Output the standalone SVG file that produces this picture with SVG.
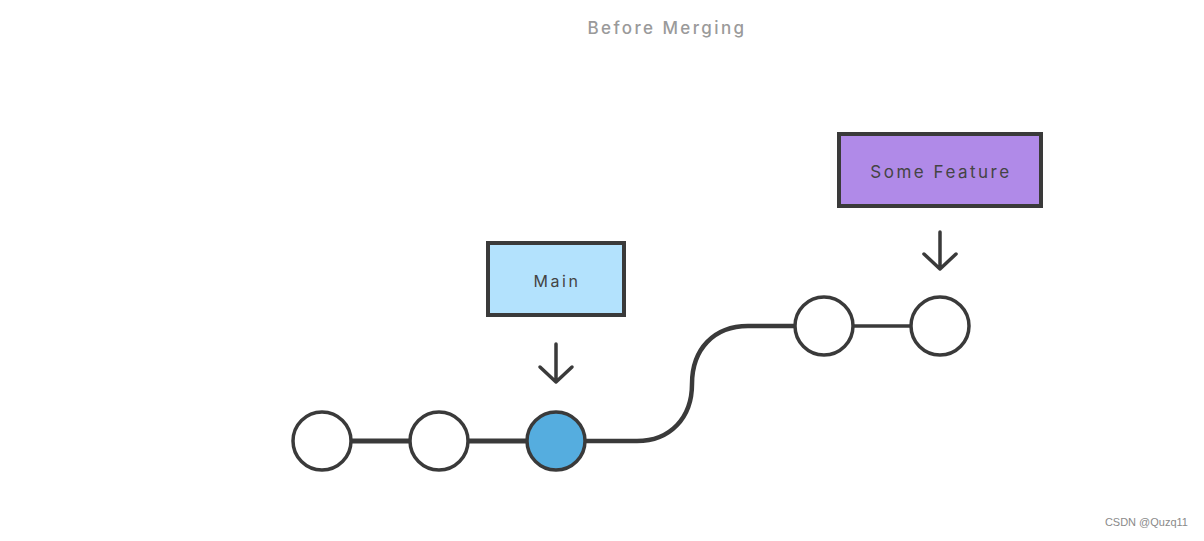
<svg xmlns="http://www.w3.org/2000/svg" width="1204" height="541" viewBox="0 0 1204 541">
<style>
.commit{fill:#ffffff;stroke:#3a3a3a;stroke-width:3.5}
.head{fill:#55addf}
.link{fill:none;stroke:#3a3a3a;stroke-linecap:butt}
.box{stroke:#3a3a3a;stroke-width:4}
.lbl{font-family:"Inter","Liberation Sans",sans-serif;fill:#444;text-anchor:middle;dominant-baseline:central;letter-spacing:2.5px}
.ptr{fill:none;stroke:#3a3a3a;stroke-width:3.5;stroke-linecap:round;stroke-linejoin:round}
</style>
<rect width="1204" height="541" fill="#ffffff"/>
<text x="667" y="28" font-family="Inter,'Liberation Sans',sans-serif" font-size="17" font-weight="500" fill="#9a9a9a" text-anchor="middle" dominant-baseline="central" letter-spacing="2.4">Before Merging</text>
<g id="connectors">
<path class="link" stroke-width="5" d="M350,441 H412"/>
<path class="link" stroke-width="5" d="M467,441 H529"/>
<path class="link" stroke-width="4.5" d="M584,441 H637 C670,441 692,418 692,384 C692,349 714,326 748,326 H797"/>
<path class="link" stroke-width="3.5" d="M852,326 H913"/>
<path class="ptr" d="M556,344 V382 M540,367 L556,382 L572,367"/>
<path class="ptr" d="M940,232 V269 M924,254 L940,269 L956,254"/>
</g>
<g id="c1"><circle class="commit" cx="322" cy="441" r="29"/></g>
<g id="c2"><circle class="commit" cx="439" cy="441" r="29"/></g>
<g id="c3"><circle class="commit head" cx="556" cy="441" r="29"/></g>
<g id="f1"><circle class="commit" cx="824" cy="326" r="29"/></g>
<g id="f2"><circle class="commit" cx="940" cy="326" r="29"/></g>
<g id="main">
<rect class="box" x="488" y="243" width="136" height="72" fill="#b3e2fd"/>
<text class="lbl" x="557" y="281" font-size="16">Main</text>
</g>
<g id="feature">
<rect class="box" x="839" y="134" width="202" height="72" fill="#b08ae8"/>
<text class="lbl" x="941" y="172" font-size="17">Some Feature</text>
</g>
<text x="1188" y="526" font-family="'Liberation Sans',sans-serif" font-size="11" fill="#8a8a8a" text-anchor="end">CSDN @Quzq11</text>
</svg>
